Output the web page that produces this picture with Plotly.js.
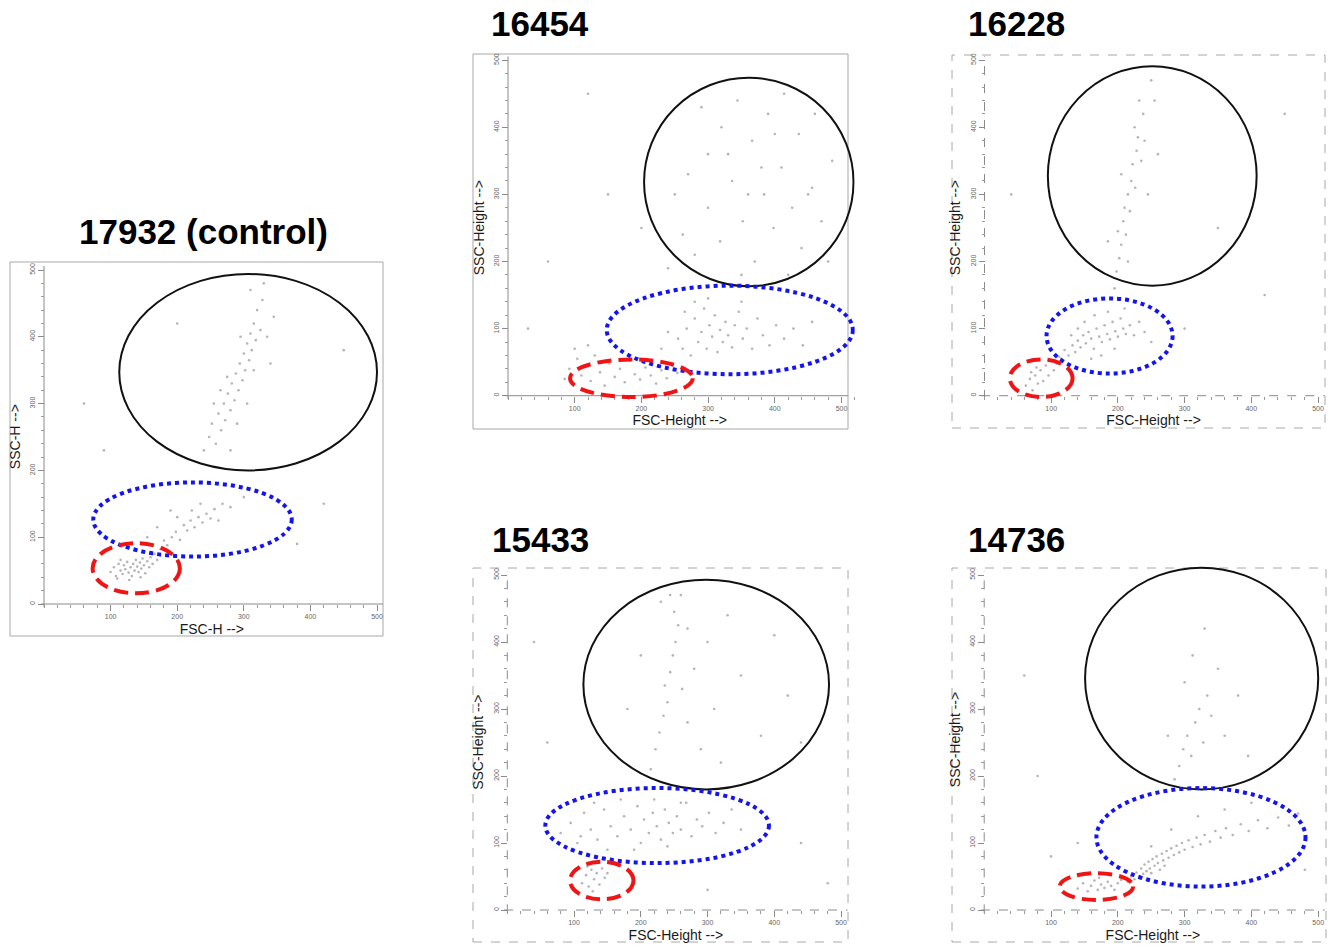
<!DOCTYPE html>
<html>
<head>
<meta charset="utf-8">
<script src="https://cdn.plot.ly/plotly-3.0.1.min.js"></script>
<style>
  html, body { margin: 0; padding: 0; background: #ffffff; }
  #chart { width: 1339px; height: 946px; }
</style>
</head>
<body>
<div id="chart"></div>
<script>
// ---------------- DATA ----------------
const panelNames = ["17932 (control)", "16454", "16228", "15433", "14736"];
const xTitles = ["FSC-H -->", "FSC-Height -->", "FSC-Height -->", "FSC-Height -->", "FSC-Height -->"];
const yTitles = ["SSC-H -->", "SSC-Height -->", "SSC-Height -->", "SSC-Height -->", "SSC-Height -->"];
const xTickVals = [100, 200, 300, 400, 500];
const xTickText = ["100", "200", "300", "400", "500"];
const yTickVals = [0, 100, 200, 300, 400, 500];
const yTickText = ["0", "100", "200", "300", "400", "500"];

// gates: [xMin, xMax, yMin, yMax] in FSC / SSC units
const blackGates = [[113, 500, 200, 494], [204, 518, 163, 474], [95, 408, 164, 491], [114, 482, 180, 493], [151, 500, 180, 511]];
const blueGates  = [[74, 372, 71, 182],   [148, 517, 32, 164],  [93, 282, 33, 145],  [57, 392, 70, 182],   [168, 481, 35, 182]];
const redGates   = [[73, 204, 16, 91],    [93, 277, -2, 54],    [38, 132, -2, 54],   [94, 189, 16, 72],    [113, 223, 15, 55]];

// events [FSC, SSC] (approximate, read from the dot clouds)
const events17932 = [
  [100,48],[105,55],[108,42],[112,60],[115,50],[118,45],[120,58],[122,52],[125,63],[127,47],[130,55],[132,42],[134,60],[136,50],
  [138,66],[140,56],[142,48],[144,62],[146,53],[148,68],[150,58],[152,46],[155,64],[158,55],[160,70],[163,60],[166,75],[170,66],
  [128,36],[145,40],[115,66],[110,38],
  [175,82],[180,95],[185,88],[192,100],[198,108],[204,96],[210,118],[215,110],[220,125],[226,115],[232,130],[238,122],[244,135],
  [250,128],[256,142],[262,125],[268,150],[200,130],[170,115],[155,100],[280,145],[235,150],[222,140],[300,160],[190,140],
  [240,230],[248,250],[252,270],[258,240],[262,285],[266,260],[270,300],[272,275],[276,315],[280,290],[282,330],[286,305],
  [288,345],[292,320],[294,360],[298,335],[300,375],[302,350],[305,390],[308,365],[310,405],[312,380],[315,420],[318,395],
  [320,440],[325,410],[328,455],[305,300],[290,270],[275,340],[265,320],[255,300],[335,400],[340,360],[345,430],[310,470],
  [330,480],[280,230],[295,400],[315,350],
  [60,300],[420,150],[450,380],[200,420],[380,90],[90,230]
];
const events16454 = [
  [85,25],[92,40],[98,18],[104,55],[110,30],[118,45],[124,22],[130,60],[138,35],[145,15],[152,48],[160,28],[168,40],[175,20],
  [182,52],[190,32],[198,24],[206,42],[214,30],[222,18],[230,38],[238,26],[246,45],[254,34],[120,75],[100,70],
  [255,85],[262,70],[268,100],[274,60],[280,115],[285,80],[290,95],[294,130],[298,70],[302,105],[306,88],[310,120],[314,65],
  [318,98],[322,80],[326,110],[330,90],[336,72],[340,105],[346,125],[352,85],[358,100],[366,70],[374,115],[382,90],[392,75],
  [402,105],[414,85],[428,100],[442,75],[456,110],[300,145],[280,140],[265,125],[350,140],[240,95],[230,70],
  [240,190],[262,240],[280,210],[300,280],[318,230],[336,320],[352,260],[370,200],[384,300],[398,250],[410,340],[426,280],
  [440,220],[456,310],[470,260],[486,350],[300,360],[320,400],[344,440],[366,380],[390,420],[414,450],[436,390],[460,420],
  [270,330],[290,430],[380,340],[420,180],[350,180],[480,200],[250,300],[330,360],[400,390],[450,300],[360,300],
  [60,200],[150,300],[120,450],[200,250],[30,100]
];
const events16228 = [
  [62,15],[68,25],[72,8],[76,30],[80,18],[84,38],[88,22],[92,45],[96,30],[100,52],[104,38],[108,48],[112,58],[78,42],[70,35],
  [115,55],[120,68],[126,60],[132,75],[136,65],[140,82],[144,72],[148,90],[152,78],[156,95],[160,85],[164,70],[168,100],
  [172,88],[176,80],[180,105],[184,92],[188,84],[192,110],[196,96],[200,88],[204,115],[208,100],[212,92],[218,105],[224,90],
  [232,110],[240,95],[250,80],[150,110],[165,120],[185,125],[175,60],[195,70],[210,130],[140,100],[160,55],[130,90],
  [195,160],[198,185],[202,205],[205,225],[200,245],[208,260],[212,240],[210,280],[215,300],[218,275],[220,320],[222,345],
  [226,310],[228,365],[230,385],[225,400],[235,350],[238,420],[232,440],[240,380],[245,300],[205,330],[250,470],[255,440],
  [215,200],[185,230],[260,360],
  [300,100],[350,250],[420,150],[40,300],[450,420]
];
const events15433 = [
  [112,40],[118,52],[122,35],[126,60],[130,46],[134,55],[138,38],[142,62],[146,48],[150,55],[128,28],[120,65],
  [80,115],[95,130],[105,100],[115,145],[125,120],[135,105],[145,150],[155,125],[165,110],[175,140],[185,120],[195,155],
  [200,100],[205,135],[212,115],[218,145],[224,125],[230,105],[236,150],[242,130],[248,115],[254,140],[260,120],[268,160],
  [276,110],[284,135],[292,125],[302,145],[312,115],[324,130],[336,150],[350,120],[220,165],[190,90],[150,90],[170,165],
  [240,95],[260,160],[130,160],[110,110],
  [215,210],[222,240],[228,265],[234,290],[240,310],[236,335],[244,355],[248,380],[252,400],[256,425],[250,445],[244,470],
  [262,330],[270,280],[280,360],[290,240],[300,400],[310,300],[330,440],[350,350],[380,260],[400,410],[420,320],[200,380],
  [260,470],[230,460],[320,220],[270,420],[440,250],[180,300],
  [60,250],[40,400],[440,100],[480,40],[300,30]
];
const events14736 = [
  [140,32],[148,40],[155,28],[160,36],[165,44],[170,30],[175,38],[180,33],[185,42],[190,36],[195,30],[200,40],[205,45],[172,48],
  [215,42],[220,50],[225,46],[228,56],[232,50],[235,62],[238,54],[240,68],[243,58],[246,72],[248,62],[250,55],[252,76],
  [255,66],[258,80],[260,70],[263,60],[266,84],[268,74],[270,66],[273,88],[276,78],[280,92],[284,82],[288,96],[292,86],
  [296,100],[300,90],[306,104],[312,94],[318,108],[324,98],[330,112],[338,102],[346,118],[354,108],[362,122],[372,112],
  [384,128],[396,118],[410,134],[424,122],[440,138],[456,126],[470,144],[320,140],[360,150],[400,160],[280,120],[250,95],
  [285,195],[292,215],[298,240],[304,260],[310,230],[316,280],[322,300],[328,250],[334,320],[340,290],[300,340],[350,360],
  [312,380],[360,260],[275,260],[380,320],[330,420],[395,230],
  [100,80],[80,200],[60,350],[480,60],[140,100]
];
const eventsAll = [events17932, events16454, events16228, events15433, events14736];

// ---------------- LAYOUT GEOMETRY ----------------
const W = 1339, H = 946;
const geom = [
  {x0: 44,    sx: 0.666, y0: 604,   sy: 0.668, xr: [-5, 509], yr: [-5, 506], frame: [10, 262, 383, 636], dashed: false, title: [203, 231]},
  {x0: 508,   sx: 0.667, y0: 395.7, sy: 0.671, xr: [-5, 520], yr: [-5, 506], frame: [473, 54, 848, 429], dashed: false, title: [540, 24]},
  {x0: 984.5, sx: 0.667, y0: 395.7, sy: 0.671, xr: [-5, 512], yr: [-5, 506], frame: [952, 55, 1325, 428], dashed: true, title: [1016, 24]},
  {x0: 507.3, sx: 0.6675, y0: 910, sy: 0.670, xr: [-5, 510], yr: [-5, 506], frame: [473, 568, 848, 942], dashed: true, title: [540, 539]},
  {x0: 984.2, sx: 0.668, y0: 910,   sy: 0.670, xr: [-5, 510], yr: [-5, 514], frame: [952, 568, 1326, 942], dashed: true, title: [1016, 539]}
];
const fx = p => p / W;
const fy = p => 1 - p / H;

const FONT = "Liberation Sans, Arial, Helvetica, sans-serif";
const traces = [];
const shapes = [];
const annotations = [];
const layout = {
  width: W, height: H,
  margin: {l: 0, r: 0, t: 0, b: 0},
  paper_bgcolor: "#ffffff", plot_bgcolor: "rgba(0,0,0,0)",
  showlegend: false,
  font: {family: FONT, color: "#222"}
};

geom.forEach((g, i) => {
  const n = i === 0 ? "" : String(i + 1);
  const xa = "x" + n, ya = "y" + n;
  const axisBase = {
    showgrid: false, zeroline: false, showline: false,
    ticks: "outside", ticklen: 6, tickwidth: 1, tickcolor: "#8a8a8a",
    tickfont: {size: 7, color: "#666666", family: FONT},
    minor: {tickmode: "linear", tick0: 0, dtick: 20, ticks: "outside", ticklen: 3, tickwidth: 1, tickcolor: "#9a9a9a"},
    fixedrange: true
  };
  layout["xaxis" + n] = Object.assign({}, axisBase, {
    domain: [fx(g.x0 + g.xr[0] * g.sx), fx(g.x0 + g.xr[1] * g.sx)],
    range: g.xr, anchor: "free", position: fy(g.y0),
    tickmode: "array", tickvals: xTickVals, ticktext: xTickText,
    title: {text: xTitles[i], font: {size: 14, color: "#1a1a1a", family: FONT}, standoff: 4}
  });
  layout["yaxis" + n] = Object.assign({}, axisBase, {
    domain: [fy(g.y0 - g.yr[0] * g.sy), fy(g.y0 - g.yr[1] * g.sy)],
    range: g.yr, anchor: "free", position: fx(g.x0),
    tickmode: "array", tickvals: yTickVals, ticktext: yTickText, tickangle: -90,
    title: {text: yTitles[i], font: {size: 14, color: "#1a1a1a", family: FONT}, standoff: 4}
  });

  const ev = eventsAll[i];
  traces.push({
    type: "scatter", mode: "markers", xaxis: xa, yaxis: ya,
    x: ev.map(p => p[0]), y: ev.map(p => p[1]), name: panelNames[i], hoverinfo: "skip",
    marker: {size: 2.6, color: "rgba(90,90,90,0.45)", line: {width: 0}}
  });

  // panel frame
  shapes.push({
    type: "rect", xref: "paper", yref: "paper", layer: "below",
    x0: fx(g.frame[0]), x1: fx(g.frame[2]), y0: fy(g.frame[3]), y1: fy(g.frame[1]),
    line: {color: "#a8a8a8", width: 1, dash: g.dashed ? "dash" : "solid"},
    fillcolor: "rgba(0,0,0,0)"
  });
  // axis lines
  const axDash = g.dashed ? "dash" : "solid";
  shapes.push({type: "line", xref: xa, yref: ya, layer: "below", x0: g.xr[0], x1: Math.min(g.xr[1], 510), y0: 0, y1: 0,
    line: {color: "#8a8a8a", width: 1, dash: axDash}});
  shapes.push({type: "line", xref: xa, yref: ya, layer: "below", x0: 0, x1: 0, y0: g.yr[0], y1: Math.min(g.yr[1], 506),
    line: {color: "#8a8a8a", width: 1, dash: axDash}});

  // gates
  const bg = blackGates[i], bl = blueGates[i], rd = redGates[i];
  shapes.push({type: "circle", xref: xa, yref: ya, layer: "above",
    x0: bg[0], x1: bg[1], y0: bg[2], y1: bg[3], line: {color: "#111111", width: 2}});
  shapes.push({type: "circle", xref: xa, yref: ya, layer: "above",
    x0: bl[0], x1: bl[1], y0: bl[2], y1: bl[3], line: {color: "#1414f0", width: 4, dash: "4px,4px"}});
  shapes.push({type: "circle", xref: xa, yref: ya, layer: "above",
    x0: rd[0], x1: rd[1], y0: rd[2], y1: rd[3], line: {color: "#f01414", width: 4, dash: "14px,7px"}});

  // panel title
  annotations.push({
    xref: "paper", yref: "paper", x: fx(g.title[0]), y: fy(g.title[1]),
    xanchor: "center", yanchor: "middle", showarrow: false,
    text: panelNames[i], font: {size: 35, color: "#000000", family: FONT, weight: "bold"}
  });
});

layout.shapes = shapes;
layout.annotations = annotations;

Plotly.newPlot("chart", traces, layout, {displayModeBar: false, staticPlot: true});
</script>
</body>
</html>
